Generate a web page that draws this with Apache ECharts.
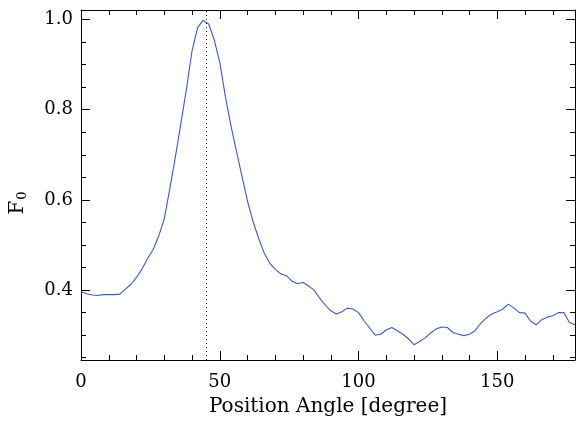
<!DOCTYPE html>
<html>
<head>
<meta charset="utf-8">
<script src="https://cdn.jsdelivr.net/npm/echarts@6/dist/echarts.min.js"></script>
<style>html,body{margin:0;padding:0;background:#fff}#c{width:576px;height:422px}</style>
</head>
<body>
<div id="c"></div>
<script>
const angles = [0,2,4,6,8,10,12,14,16,18,20,22,24,26,28,30,32,34,36,38,40,42,44,46,48,50,52,54,56,58,60,62,64,66,68,70,72,74,76,78,80,82,84,86,88,90,92,94,96,98,100,102,104,106,108,110,112,114,116,118,120,122,124,126,128,130,132,134,136,138,140,142,144,146,148,150,152,154,156,158,160,162,164,166,168,170,172,174,176,178];
const f0 = [0.397,0.392,0.389,0.388,0.390,0.390,0.390,0.391,0.402,0.413,0.428,0.447,0.470,0.490,0.520,0.558,0.625,0.695,0.770,0.846,0.930,0.982,0.998,0.990,0.955,0.905,0.830,0.765,0.708,0.652,0.597,0.552,0.515,0.482,0.460,0.446,0.436,0.432,0.420,0.414,0.417,0.409,0.400,0.382,0.367,0.354,0.347,0.352,0.360,0.358,0.350,0.332,0.316,0.300,0.302,0.312,0.317,0.310,0.302,0.292,0.279,0.286,0.294,0.305,0.314,0.318,0.317,0.306,0.302,0.299,0.302,0.310,0.326,0.338,0.347,0.352,0.358,0.369,0.360,0.350,0.349,0.331,0.323,0.334,0.340,0.343,0.350,0.350,0.328,0.323];
const peakAngle = 45;
const xMajorTicks = [0,50,100,150];
const xMinorTicks = [0,10,20,30,40,50,60,70,80,90,100,110,120,130,140,150,160,170];
const yMajorTicks = [0.4,0.6,0.8,1.0];
const yMinorTicks = [0.25,0.3,0.35,0.4,0.45,0.5,0.55,0.6,0.65,0.7,0.75,0.8,0.85,0.9,0.95,1.0];
const xTitle = 'Position Angle [degree]';
const yTitleMain = 'F', yTitleSub = '0';

const XMIN = 0, XMAX = 178, YMIN = 0.245, YMAX = 1.021;
const FONT = 'DejaVu Serif';
const lineCol = '#000';

function xAx(pos, ticks, len, labels, showLine) {
  return {
    type: 'value', position: pos, min: XMIN, max: XMAX,
    axisLine: { show: showLine, onZero: false, lineStyle: { color: lineCol, width: 1 } },
    axisTick: { show: true, inside: true, length: len, customValues: ticks, lineStyle: { color: lineCol, width: 1 } },
    axisLabel: labels ? { show: true, customValues: xMajorTicks, margin: 13, fontFamily: FONT, fontSize: 18, color: '#000' } : { show: false },
    splitLine: { show: false }
  };
}
function yAx(pos, ticks, len, labels, showLine) {
  return {
    type: 'value', position: pos, min: YMIN, max: YMAX,
    axisLine: { show: showLine, onZero: false, lineStyle: { color: lineCol, width: 1 } },
    axisTick: { show: true, inside: true, length: len, customValues: ticks, lineStyle: { color: lineCol, width: 1 } },
    axisLabel: labels ? { show: true, customValues: yMajorTicks, margin: 8, fontFamily: FONT, fontSize: 18, color: '#000', formatter: v => v.toFixed(1) } : { show: false },
    splitLine: { show: false }
  };
}

const xa0 = xAx('bottom', xMajorTicks, 9, true, true);
xa0.name = xTitle;
xa0.nameLocation = 'middle';
xa0.nameGap = 37;
xa0.nameTextStyle = { fontFamily: FONT, fontSize: 20, color: '#000' };

const chart = echarts.init(document.getElementById('c'), null, { renderer: 'canvas' });
chart.setOption({
  animation: false,
  backgroundColor: '#fff',
  grid: { left: 81, right: 1, top: 10, bottom: 61, containLabel: false },
  xAxis: [xa0, xAx('bottom', xMinorTicks, 5, false, false), xAx('top', xMajorTicks, 9, false, true), xAx('top', xMinorTicks, 5, false, false)],
  yAxis: [yAx('left', yMajorTicks, 9, true, true), yAx('left', yMinorTicks, 5, false, false), yAx('right', yMajorTicks, 9, false, true), yAx('right', yMinorTicks, 5, false, false)],
  graphic: [{
    type: 'text', x: 18, y: 203, rotation: Math.PI / 2,
    style: {
      text: '{a|' + yTitleMain + '}{b|' + yTitleSub + '}',
      align: 'center', verticalAlign: 'middle',
      rich: {
        a: { fontFamily: FONT, fontSize: 20, fill: '#000' },
        b: { fontFamily: FONT, fontSize: 13, fill: '#000', padding: [9, 0, 0, 1] }
      }
    }
  }],
  series: [{
    type: 'line', xAxisIndex: 0, yAxisIndex: 0,
    data: angles.map((a, i) => [a, f0[i]]),
    showSymbol: false, symbol: 'none',
    lineStyle: { color: '#3d5cbf', width: 1.1 },
    markLine: {
      silent: true, symbol: 'none', animation: false,
      label: { show: false },
      lineStyle: { color: '#222', type: [1, 3], width: 1 },
      data: [{ xAxis: peakAngle }]
    }
  }]
});
</script>
</body>
</html>
